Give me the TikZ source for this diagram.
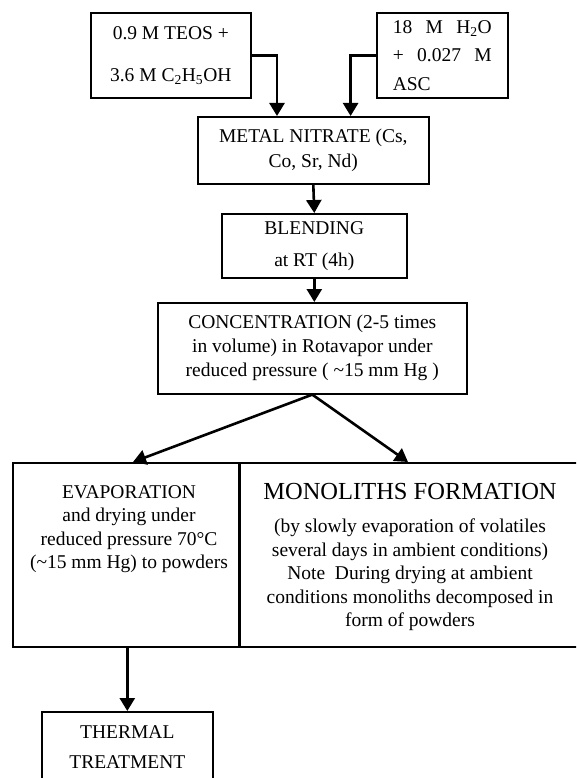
\documentclass[tikz,border=0pt]{standalone}
\usepackage{fontspec}
\setmainfont{Liberation Serif}
\usepackage{tikz}
\usetikzlibrary{arrows.meta}

\tikzset{
	box/.style={draw, line width=1.6pt, anchor=north west, inner sep=0pt,
		align=center, font=\fontsize{19.5}{24}\selectfont},
	boxtext/.style={anchor=north, inner sep=0pt, align=center,
		font=\fontsize{19.5}{23.5}\selectfont},
	flow/.style={line width=2.6pt, -{Triangle[length=13pt,width=15pt]}},
}

\begin{document}
\begin{tikzpicture}[x=1pt, y=-1pt]
	% параметры
	\def\W{576} % ширина рисунка
	\def\H{778} % высота рисунка

	% обрезаем всё по размеру рисунка
	\clip (0,0) rectangle (\W,\H);
	\fill[white] (0,0) rectangle (\W,\H);

	% исходные растворы
	\node[box, minimum width=160, minimum height=85] (teos) at (90,12)
		{0.9 M TEOS +\\[18pt]3.6 M C\textsubscript{2}H\textsubscript{5}OH};
	\node[box, minimum width=131, minimum height=85, align=left] (water) at (376,12)
		{\makebox[99pt][s]{18 M H\textsubscript{2}O}\\[4.5pt]
		 \makebox[99pt][s]{+ 0.027 M}\\[4.5pt]ASC};

	% основная цепочка
	\node[box, minimum width=231, minimum height=67] (nitrate) at (197,116)
		{METAL NITRATE (Cs,\\[1pt]Co, Sr, Nd)};
	\node[box, minimum width=185, minimum height=64] (blend) at (221,213)
		{BLENDING\\[8pt]at RT (4h)};
	\node[box, minimum width=309, minimum height=91] (conc) at (157,302)
		{CONCENTRATION (2-5 times\\in volume) in Rotavapor under\\
		 reduced pressure ( \textasciitilde15 mm Hg )};

	% две ветви
	\node[box, minimum width=226, minimum height=184] (evap) at (12,462) {};
	\node[box, minimum width=360, minimum height=184] (mono) at (238,462) {};
	\draw[line width=3pt] (evap.north east) -- (evap.south east);

	\node[boxtext] (evaptext) at (129,485)
		{EVAPORATION\\and drying under\\reduced pressure 70°C\\
		 (\textasciitilde15 mm Hg) to powders};
	\node[boxtext] (monotext) at (410,483)
		{{\fontsize{24.5}{28}\selectfont MONOLITHS FORMATION}\\[10pt]
		 (by slowly evaporation of volatiles\\several days in ambient conditions)\\
		 Note\ \ During drying at ambient\\conditions monoliths decomposed in\\
		 form of powders};

	% термообработка
	\node[box, minimum width=171, minimum height=70] (thermal) at (41,711)
		{THERMAL\\[6pt]TREATMENT};

	% стрелки
	\draw[flow] (teos.east) -| ([xshift=80pt]nitrate.north west);
	\draw[flow] (water.west) -| ([xshift=-79pt]nitrate.north east);
	\draw[flow] (nitrate.south) -- (blend.north);
	\draw[flow] (blend.south) -- (blend.south |- conc.north);
	\draw[flow] (conc.south) -- ([xshift=121pt]evap.north west);
	\draw[flow] (conc.south) -- ([xshift=170pt]mono.north west);
	\draw[flow] (thermal.north |- evap.south) -- (thermal.north);
\end{tikzpicture}
\end{document}
